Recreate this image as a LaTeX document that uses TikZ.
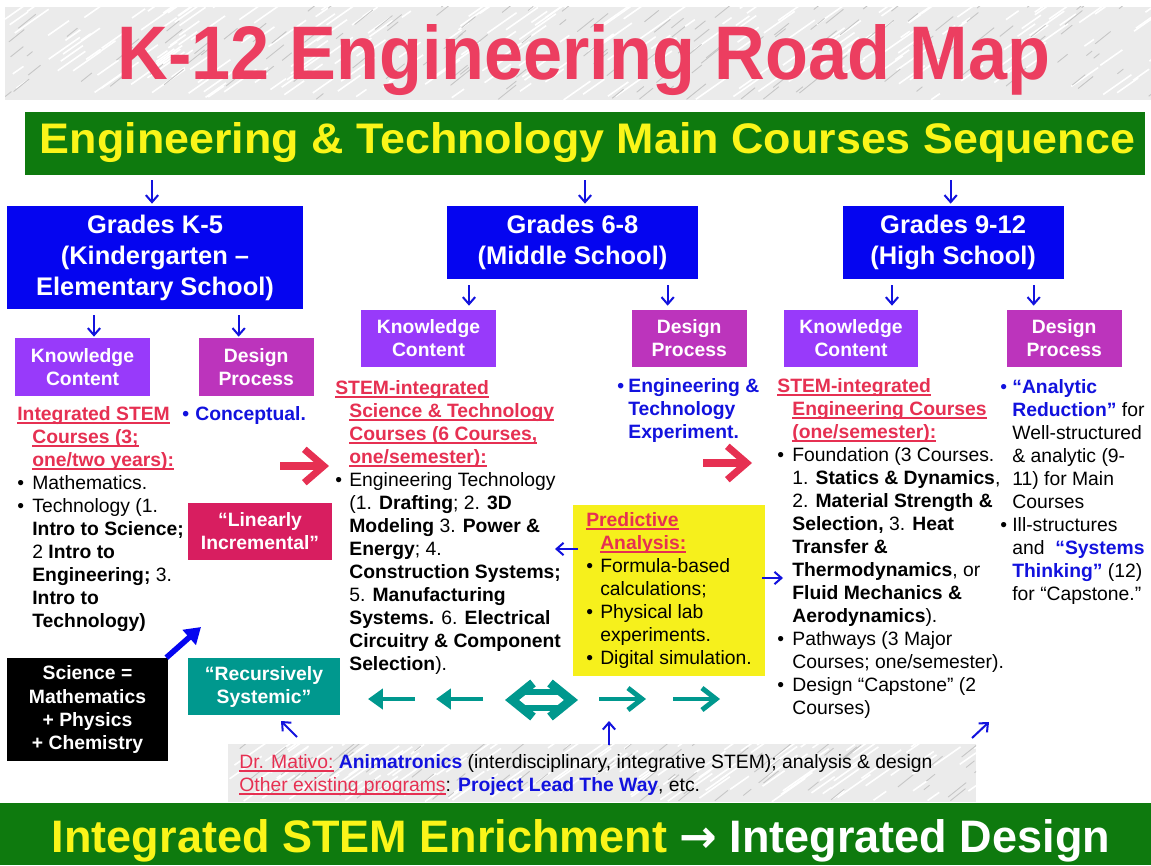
\documentclass[tikz,border=0pt]{standalone}
\usepackage{fontspec}
\setmainfont{Liberation Sans}
\newfontfamily\arrowfont{DejaVu Sans}
\usepackage{graphicx}
\usetikzlibrary{arrows.meta, positioning}

\newlength\pxu
\setlength\pxu{0.02cm}
\newsavebox\ulbox

\definecolor{titlered}{RGB}{236,62,96}
\definecolor{headred}{RGB}{230,48,82}
\definecolor{bandgreen}{RGB}{14,122,14}
\definecolor{bandyellow}{RGB}{250,245,25}
\definecolor{gradeblue}{RGB}{5,5,240}
\definecolor{knowpurple}{RGB}{152,58,250}
\definecolor{designmag}{RGB}{188,52,188}
\definecolor{linred}{RGB}{216,30,96}
\definecolor{recteal}{RGB}{0,152,142}
\definecolor{predyellow}{RGB}{246,240,28}
\definecolor{textblue}{RGB}{18,18,222}

\newcommand\ulx[1]{\sbox\ulbox{#1}\rlap{\rule[-1.9pt]{\wd\ulbox}{0.9pt}}\usebox\ulbox}
\newcommand\hd[1]{\textcolor{headred}{\textbf{\ulx{#1}}}}
\newcommand\bul[1][15]{\makebox[#1\pxu][l]{•}}
\newcommand\ind[1][15]{\hspace*{#1\pxu}}
\newcommand\bluebf[1]{\textcolor{textblue}{\textbf{#1}}}

\begin{document}
\begin{tikzpicture}[x=0.02cm, y=-0.02cm,
        band/.style={rectangle, fill=bandgreen, inner sep=0pt},
        gradebox/.style={rectangle, fill=gradeblue, text=white, align=center, inner sep=0pt, font=\fontsize{14.5}{17.6}\selectfont\bfseries},
        knowbox/.style={rectangle, fill=knowpurple, text=white, align=center, inner sep=0pt, minimum width=2.7cm, minimum height=1.14cm, font=\fontsize{11}{13.1}\selectfont\bfseries},
        designbox/.style={knowbox, fill=designmag, minimum width=2.3cm},
        quotebox/.style={knowbox},
        predbox/.style={rectangle, fill=predyellow, align=left, inner sep=0pt, minimum width=3.84cm, minimum height=3.42cm, font=\fontsize{11}{13.1}\selectfont},
        textblock/.style={anchor=north west, inner sep=0pt, align=left, font=\fontsize{11}{13.1}\selectfont},
        bluearrow/.style={-{Straight Barb[length=4pt, width=7pt]}, textblue, line width=1.15pt},
        sciarrow/.style={-{Triangle[length=9pt, width=11pt]}, gradeblue, line width=3.2pt},
        redarrow/.style={-{Straight Barb[length=11pt, width=19pt]}, headred, line width=4pt},
        tealleft/.style={-{Triangle[length=8.5pt, width=11.5pt]}, recteal, line width=2.8pt},
        tealright/.style={-{Straight Barb[length=8pt, width=12.5pt]}, recteal, line width=2.8pt},
        marble/.style={fill=gray!16}
    ]
    \fill[white] (0,0) rectangle (1151,865);
    \useasboundingbox (0,0) rectangle (1151,865);

    % Title on marble
    \begin{scope}
        \clip (5,7) rectangle (1151,100);
        \fill[marble] (5,7) rectangle (1151,100);
        \pgfmathsetseed{7}
        \foreach \i in {1,...,220} {
            \pgfmathsetmacro\mx{5+1146*rnd}
            \pgfmathsetmacro\my{7+93*rnd}
            \pgfmathsetmacro\ml{8+30*rnd}
            \draw[white, line width=0.9pt] (\mx,\my) -- ++(\ml,-0.7*\ml);
        }
        \foreach \i in {1,...,140} {
            \pgfmathsetmacro\mx{5+1146*rnd}
            \pgfmathsetmacro\my{7+93*rnd}
            \pgfmathsetmacro\ml{5+15*rnd}
            \draw[gray!45, line width=0.5pt] (\mx,\my) -- ++(\ml,-0.8*\ml);
        }
    \end{scope}
    \node[anchor=base, text=titlered, inner sep=0pt] (title) at (584,80) {\resizebox{932\pxu}{55\pxu}{\bfseries K-12 Engineering Road Map}};

    % Main sequence band
    \node[band, minimum width=22.4cm, minimum height=1.26cm] (seq) at (585,143.5) {};
    \node[anchor=base, text=bandyellow, inner sep=0pt] (seqtxt) at (587.5,153) {\resizebox{1095\pxu}{31\pxu}{\bfseries Engineering \& Technology Main Courses Sequence}};

    % Grade boxes
    \node[gradebox, minimum width=5.92cm, minimum height=2.06cm] (k5) at (155,257.5) {Grades K-5\\(Kindergarten –\\Elementary School)};
    \node[gradebox, minimum width=5.02cm, minimum height=1.46cm] (g68) at (572.5,242.5) {Grades 6-8\\(Middle School)};
    \node[gradebox, minimum width=4.42cm, minimum height=1.46cm, right=2.88cm of g68] (g912) {Grades 9-12\\(High School)};

    % Knowledge / design boxes
    \node[knowbox, minimum height=1.16cm] (kk5) at (82.5,367) {Knowledge\\Content};
    \node[designbox, minimum height=1.16cm, right=0.96cm of kk5] (dk5) {Design\\Process};
    \node[knowbox] (k68) at (428.5,338.5) {Knowledge\\Content};
    \node[designbox, right=2.7cm of k68] (d68) {Design\\Process};
    \node[knowbox, minimum width=2.68cm] (k912) at (851,338.5) {Knowledge\\Content};
    \node[designbox, right=1.76cm of k912] (d912) {Design\\Process};

    % K-5 texts
    \node[textblock] (kt5) at (17,406) {\hd{Integrated STEM}\\
        \ind\hd{Courses (3;}\\
        \ind\hd{one/two years):}\\
        \bul Mathematics.\\
        \bul Technology (1.\\
        \ind\textbf{Intro to Science;}\\
        \ind 2 \textbf{Intro to}\\
        \ind\textbf{Engineering;} 3.\\
        \ind\textbf{Intro to}\\
        \ind\textbf{Technology)}};
    \node[textblock, text=textblue, font=\fontsize{11}{13.1}\selectfont\bfseries] (dt5) at (182,406) {\bul[13]Conceptual.};

    % 6-8 texts
    \node[textblock] (kt68) at (335,380) {\hd{STEM-integrated}\\
        \ind[14]\hd{Science \& Technology}\\
        \ind[14]\hd{Courses (6 Courses,}\\
        \ind[14]\hd{one/semester):}\\
        \bul[14]Engineering Technology\\
        \ind[14](1. \textbf{Drafting}; 2. \textbf{3D}\\
        \ind[14]\textbf{Modeling} 3. \textbf{Power \&}\\
        \ind[14]\textbf{Energy}; 4.\\
        \ind[14]\textbf{Construction Systems;}\\
        \ind[14]5. \textbf{Manufacturing}\\
        \ind[14]\textbf{Systems.} 6. \textbf{Electrical}\\
        \ind[14]\textbf{Circuitry \& Component}\\
        \ind[14]\textbf{Selection}).};
    \node[textblock, text=textblue, font=\fontsize{11}{13.1}\selectfont\bfseries] (dt68) at (617,378) {\bul[11]Engineering \&\\
        \ind[11]Technology\\
        \ind[11]Experiment.};

    % 9-12 texts
    \node[textblock] (kt912) at (777,378) {\hd{STEM-integrated}\\
        \ind\hd{Engineering Courses}\\
        \ind\hd{(one/semester):}\\
        \bul Foundation (3 Courses.\\
        \ind 1. \textbf{Statics \& Dynamics},\\
        \ind 2. \textbf{Material Strength \&}\\
        \ind\textbf{Selection,} 3. \textbf{Heat}\\
        \ind\textbf{Transfer \&}\\
        \ind\textbf{Thermodynamics}, or\\
        \ind\textbf{Fluid Mechanics \&}\\
        \ind\textbf{Aerodynamics}).\\
        \bul Pathways (3 Major\\
        \ind Courses; one/semester).\\
        \bul Design “Capstone” (2\\
        \ind Courses)};
    \node[textblock] (dt912) at (1000,379) {{\color{textblue}\bul[12]\textbf{“Analytic}}\\
        \ind[12]\bluebf{Reduction”} for\\
        \ind[12]Well-structured\\
        \ind[12]\& analytic (9-\\
        \ind[12]11) for Main\\
        \ind[12]Courses\\
        \bul[12]Ill-structures\\
        \ind[12]and \ \bluebf{“Systems}\\
        \ind[12]\bluebf{Thinking”} (12)\\
        \ind[12]for “Capstone.”};

    % Predictive analysis
    \node[predbox] (pred) at (669,590.5) {\hd{Predictive}\\
        \ind[14]\hd{Analysis:}\\
        \bul[14]Formula-based\\
        \ind[14]calculations;\\
        \bul[14]Physical lab\\
        \ind[14]experiments.\\
        \bul[14]Digital simulation.};

    % Quote boxes
    \node[quotebox, fill=linred, minimum width=2.88cm] (linear) at (260,531.5) {“Linearly\\Incremental”};
    \node[quotebox, fill=recteal, minimum width=3.04cm] (recur) at (264,686.5) {“Recursively\\Systemic”};
    \node[quotebox, fill=black, minimum width=3.22cm, minimum height=2.06cm] (sci) at (87.5,709.5) {Science =\\Mathematics\\+ Physics\\+ Chemistry};

    % Programs on marble
    \begin{scope}
        \clip (228,744) rectangle (976,802);
        \fill[marble] (228,744) rectangle (976,802);
        \foreach \i in {1,...,140} {
            \pgfmathsetmacro\mx{228+748*rnd}
            \pgfmathsetmacro\my{744+58*rnd}
            \pgfmathsetmacro\ml{8+30*rnd}
            \draw[white, line width=0.9pt] (\mx,\my) -- ++(\ml,-0.7*\ml);
        }
        \foreach \i in {1,...,80} {
            \pgfmathsetmacro\mx{228+748*rnd}
            \pgfmathsetmacro\my{744+58*rnd}
            \pgfmathsetmacro\ml{5+15*rnd}
            \draw[gray!45, line width=0.5pt] (\mx,\my) -- ++(\ml,-0.8*\ml);
        }
    \end{scope}
    \node[textblock] (prog) at (239,754) {\textcolor{headred}{\ulx{Dr. Mativo:}} \bluebf{Animatronics} (interdisciplinary, integrative STEM); analysis \& design\\
        \textcolor{headred}{\ulx{Other existing programs}}: \bluebf{Project Lead The Way}, etc.};

    % Enrichment band
    \node[band, minimum width=23.02cm, minimum height=1.24cm, anchor=north west] (enrich) at (0,803) {};
    \node[anchor=base, text=white, inner sep=0pt] (enrichtxt) at (581,852) {\resizebox{1058\pxu}{33\pxu}{\bfseries\textcolor{bandyellow}{Integrated STEM Enrichment} {\arrowfont\bfseries →} Integrated Design}};

    % Arrows: band to grades
    \draw[bluearrow] ([xshift=-0.06cm,yshift=-0.1cm]k5.north |- seq.south) -- ([xshift=-0.06cm,yshift=0.04cm]k5.north);
    \draw[bluearrow] ([xshift=0.25cm,yshift=-0.1cm]g68.north |- seq.south) -- ([xshift=0.25cm,yshift=0.04cm]g68.north);
    \draw[bluearrow] ([xshift=-0.05cm,yshift=-0.1cm]g912.north |- seq.south) -- ([xshift=-0.05cm,yshift=0.04cm]g912.north);

    % Arrows: grades to boxes
    \draw[bluearrow] ([xshift=0.23cm,yshift=-0.12cm]kk5.north |- k5.south) -- ([xshift=0.23cm,yshift=0.02cm]kk5.north);
    \draw[bluearrow] ([xshift=-0.35cm,yshift=-0.12cm]dk5.north |- k5.south) -- ([xshift=-0.35cm,yshift=0.02cm]dk5.north);
    \draw[bluearrow] ([xshift=0.81cm,yshift=-0.12cm]k68.north |- g68.south) -- ([xshift=0.81cm,yshift=0.08cm]k68.north);
    \draw[bluearrow] ([xshift=-0.43cm,yshift=-0.12cm]d68.north |- g68.south) -- ([xshift=-0.43cm,yshift=0.08cm]d68.north);
    \draw[bluearrow] ([xshift=0.82cm,yshift=-0.12cm]k912.north |- g912.south) -- ([xshift=0.82cm,yshift=0.08cm]k912.north);
    \draw[bluearrow] ([xshift=-0.61cm,yshift=-0.12cm]d912.north |- g912.south) -- ([xshift=-0.61cm,yshift=0.08cm]d912.north);

    % Arrows: predictive analysis
    \coordinate (predl) at (555,549);
    \coordinate (predr) at (783,578);
    \draw[bluearrow] ([xshift=0.1cm]pred.west |- predl) -- (predl);
    \draw[bluearrow] ([xshift=-0.06cm]pred.east |- predr) -- (predr);

    % Arrows: small diagonal and up
    \coordinate (nwtail) at (297,737);
    \coordinate (nwtip) at (281,721);
    \coordinate (uptail) at (609,745);
    \coordinate (uptip) at (609,721);
    \coordinate (netail) at (972,738);
    \coordinate (netip) at (989,722);
    \draw[bluearrow] (nwtail) -- (nwtip);
    \draw[bluearrow] (uptail) -- (uptip);
    \draw[bluearrow] (netail) -- (netip);

    % Arrow: science to K-5
    \coordinate (scitip) at (201,627);
    \draw[sciarrow] ([xshift=-0.04cm]sci.north east) -- (scitip);

    % Red arrows
    \coordinate (redA) at (280,466);
    \coordinate (redB) at (329,466);
    \coordinate (redC) at (703,463);
    \coordinate (redD) at (752,463);
    \draw[redarrow] (redA) -- (redB);
    \draw[redarrow] (redC) -- (redD);

    % Teal arrows
    \coordinate (tl1) at (368,699);
    \coordinate (tl2) at (436,699);
    \coordinate (tr1) at (646,699);
    \coordinate (tr2) at (720,699);
    \draw[tealleft] (415,699) -- (tl1);
    \draw[tealleft] (483,699) -- (tl2);
    \draw[tealright] (599,699) -- (tr1);
    \draw[tealright] (673,699) -- (tr2);
    \draw[recteal, line width=5pt, line join=miter] (533,683) -- (512,700) -- (533,717);
    \draw[recteal, line width=5pt, line join=miter] (550,683) -- (571,700) -- (550,717);
    \draw[recteal, line width=3.4pt] (522,692) -- (561,692);
    \draw[recteal, line width=3.4pt] (522,708) -- (561,708);
\end{tikzpicture}
\end{document}
